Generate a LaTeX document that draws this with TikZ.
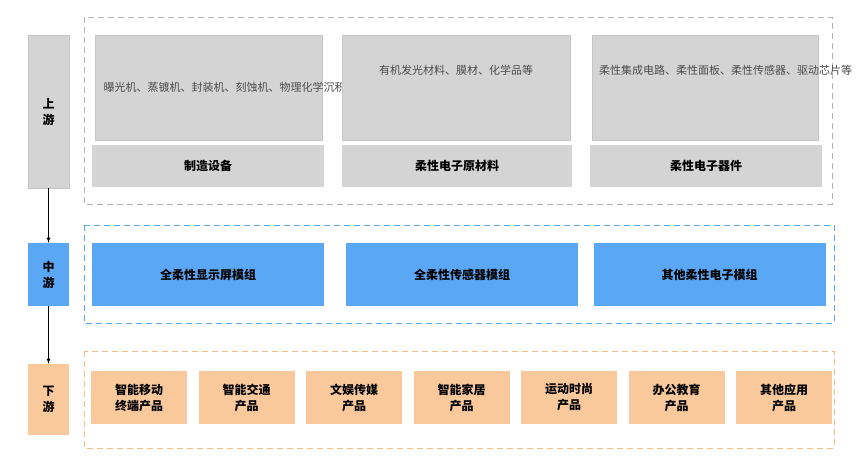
\documentclass[tikz,border=0pt]{standalone}
\usepackage{fontspec}
\newfontfamily\cjk{Noto Sans CJK SC}
\definecolor{myblue}{RGB}{90,168,245}
\definecolor{myorange}{RGB}{249,200,155}
\definecolor{myorline}{RGB}{240,190,130}
\definecolor{mygray}{RGB}{212,212,212}
\begin{document}
\begin{tikzpicture}[x=1pt,y=-1pt,font=\cjk\fontsize{11}{14}\selectfont,
  gbox/.style={fill=mygray,draw=gray!45,inner sep=0},
  bbox/.style={fill=myblue,draw=none,inner sep=0},
  obox/.style={fill=myorange,draw=none,inner sep=0},
  arr/.style={-latex,thick,black}]
\useasboundingbox[fill=white] (0,0) rectangle (860,466);
% dashed frames
\draw[gray!60,thick,dash pattern=on 6pt off 4pt] (84,17) rectangle (832,204);
\draw[myblue,thick,dash pattern=on 6pt off 4pt] (84,225) rectangle (834,323);
\draw[myorline,thick,dash pattern=on 6pt off 4pt] (84,351) rectangle (834,448);
% left labels
\node[gbox,minimum width=41,minimum height=153,font=\cjk\bfseries\fontsize{12}{16}\selectfont,align=center] (up) at (48.5,111.5) {上\\游};
\node[bbox,minimum width=41,minimum height=63,font=\cjk\bfseries\fontsize{12}{16}\selectfont,align=center] (mid) at (48.5,274.5) {中\\游};
\node[obox,minimum width=41,minimum height=71,font=\cjk\bfseries\fontsize{12}{16}\selectfont,align=center] (down) at (48.5,399.5) {下\\游};
\draw[arr] (up) -- (mid);
\draw[arr] (mid) -- (down);
% upstream
\node[gbox,minimum width=227,minimum height=105,text width=210,align=center,text=black!70] (u1) at (208.5,87.5) {曝光机、蒸镀机、封装机、刻蚀机、物理化学沉积机、柔性模组设备等};
\node[gbox,minimum width=228,minimum height=105,text width=212,align=center,text=black!70] (u2) at (456,87.5) {};
\node[text width=212,align=center,text=black!70,anchor=north] at (456,62) {有机发光材料、膜材、化学品等};
\node[gbox,minimum width=226,minimum height=105,text width=210,align=center,text=black!70] (u3) at (705,87.5) {};
\node[text width=212,align=center,text=black!70,anchor=north] at (705,62) {柔性集成电路、柔性面板、柔性传感器、驱动芯片等};
\node[gbox,draw=none,minimum width=232,minimum height=42,font=\cjk\bfseries\fontsize{12}{14}\selectfont] (l1) at (208,166) {制造设备};
\node[gbox,draw=none,minimum width=230,minimum height=42,font=\cjk\bfseries\fontsize{12}{14}\selectfont] (l2) at (457,166) {柔性电子原材料};
\node[gbox,draw=none,minimum width=232,minimum height=42,font=\cjk\bfseries\fontsize{12}{14}\selectfont] (l3) at (706,166) {柔性电子器件};
% midstream
\foreach \n/\cx/\t in {m1/208/全柔性显示屏模组,m2/462/全柔性传感器模组,m3/709.5/其他柔性电子模组}
  \node[bbox,minimum width=232,minimum height=63,font=\cjk\bfseries\fontsize{12}{14}\selectfont] (\n) at (\cx,274.5) {\t};
% downstream
\foreach \i/\t in {0/智能移动\\终端产品,1/智能交通\\产品,2/文娱传媒\\产品,3/智能家居\\产品,4/运动时尚\\产品,5/办公教育\\产品,6/其他应用\\产品}
  \node[obox,minimum width=96,minimum height=53,align=center,font=\cjk\bfseries\fontsize{12}{16}\selectfont] (d\i) at ({139+\i*107.5},397.5) {\t};
\end{tikzpicture}
\end{document}
